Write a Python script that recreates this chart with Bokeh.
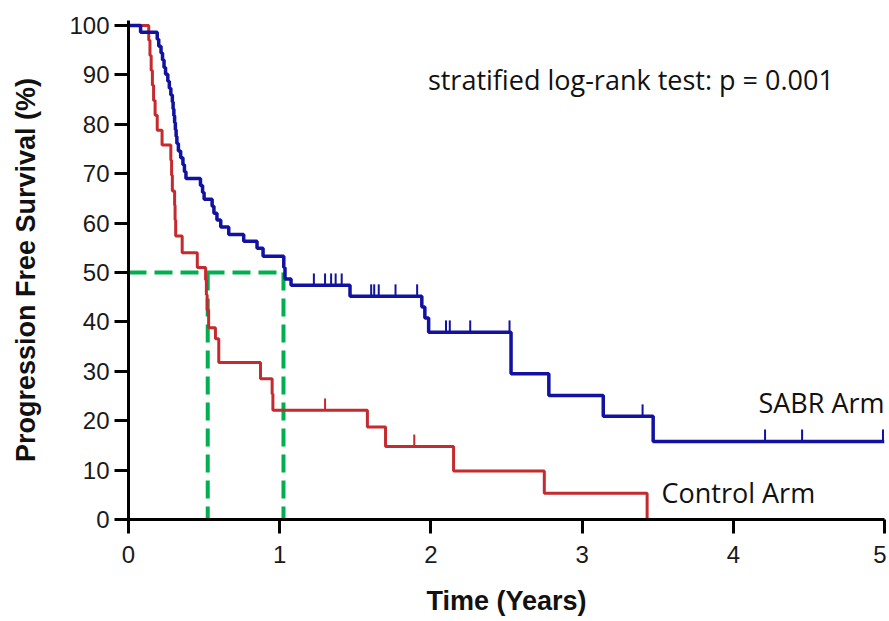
from bokeh.plotting import figure
from bokeh.models import Label, FixedTicker, Range1d
from bokeh.embed import file_html
from bokeh.resources import INLINE

# ---------------- data ----------------
# SABR arm: event times (years) and survival (%) after each step
sabr_times = [0.08, 0.19, 0.20, 0.215, 0.225, 0.235, 0.245, 0.26, 0.27, 0.28, 0.29,
              0.295, 0.30, 0.305, 0.31, 0.315, 0.32, 0.33, 0.345, 0.36, 0.37, 0.38,
              0.476, 0.49, 0.50, 0.553, 0.565, 0.585, 0.61, 0.663, 0.762, 0.85, 0.89,
              1.027, 1.035, 1.075, 1.465, 1.94, 1.96, 1.985, 2.53, 2.78, 3.14, 3.47]
sabr_surv = [98.6, 97.2, 95.8, 94.4, 93.0, 91.5, 90.1, 88.7, 87.3, 85.9, 84.5,
             83.1, 81.7, 80.3, 78.9, 77.5, 76.1, 74.6, 73.2, 71.8, 70.4, 69.0,
             67.6, 66.2, 64.8, 63.4, 62.0, 60.6, 59.2, 57.7, 56.3, 54.9, 53.3,
             51.0, 48.7, 47.4, 45.2, 43.0, 40.8, 37.9, 29.5, 25.1, 20.9, 15.8]
sabr_end = 5.0
sabr_cens_t = [1.226, 1.30, 1.34, 1.37, 1.41, 1.605, 1.625, 1.655, 1.766, 1.909,
               2.10, 2.125, 2.26, 2.52, 3.40, 4.21, 4.455, 4.99]
sabr_cens_s = [47.4, 47.4, 47.4, 47.4, 47.4, 45.2, 45.2, 45.2, 45.2, 45.2,
               37.9, 37.9, 37.9, 37.9, 20.9, 15.8, 15.8, 15.8]

# Control arm
ctrl_times = [0.134, 0.142, 0.150, 0.158, 0.166, 0.176, 0.190, 0.222, 0.28, 0.285,
              0.29, 0.305, 0.308, 0.312, 0.355, 0.455, 0.51, 0.515, 0.52, 0.53,
              0.575, 0.597, 0.873, 0.95, 0.955, 1.58, 1.70, 2.15, 2.75, 3.43]
ctrl_surv = [97.0, 93.9, 90.9, 87.9, 84.8, 81.8, 78.8, 75.8, 72.7, 69.7,
             66.5, 63.6, 60.6, 57.4, 54.0, 51.0, 48.5, 45.5, 42.4, 38.8,
             36.6, 31.8, 28.5, 25.4, 22.1, 18.7, 14.8, 9.8, 5.3, 0.0]
ctrl_cens_t = [1.30, 1.89]
ctrl_cens_s = [22.1, 14.8]

median_level = 50
median_ctrl = 0.524
median_sabr = 1.025

x_ticks = [0, 1, 2, 3, 4, 5]
y_ticks = [0, 10, 20, 30, 40, 50, 60, 70, 80, 90, 100]

BLUE = "#1212A2"
RED = "#C42A2E"
GREEN = "#00B050"
CENS_LEN = 2.4  # censor tick length in % units

p = figure(width=886, height=618, output_backend="svg", toolbar_location=None,
           x_range=Range1d(0, 5), y_range=Range1d(0, 101),
           min_border_left=128, min_border_right=2, min_border_top=20,
           min_border_bottom=99)
p.outline_line_color = None
p.xgrid.visible = False
p.ygrid.visible = False
p.background_fill_color = "white"
p.border_fill_color = "white"

# median guide lines
p.segment(x0=[0], y0=[median_level], x1=[median_sabr], y1=[median_level],
          line_color=GREEN, line_width=4, line_dash="18 8")
p.segment(x0=[median_ctrl, median_sabr], y0=[median_level, median_level],
          x1=[median_ctrl, median_sabr], y1=[0, 0],
          line_color=GREEN, line_width=4, line_dash="18 8")

# Control
cx = [0] + ctrl_times
cy = [100] + ctrl_surv
p.step(cx, cy, mode="after", line_color=RED, line_width=3)
p.segment(x0=ctrl_cens_t, y0=ctrl_cens_s, x1=ctrl_cens_t,
          y1=[s + CENS_LEN for s in ctrl_cens_s], line_color=RED, line_width=2)

# SABR
sx = [0] + sabr_times + [sabr_end]
sy = [100] + sabr_surv + [sabr_surv[-1]]
p.step(sx, sy, mode="after", line_color=BLUE, line_width=3.5)
p.segment(x0=sabr_cens_t, y0=sabr_cens_s, x1=sabr_cens_t,
          y1=[s + CENS_LEN for s in sabr_cens_s], line_color=BLUE, line_width=2)

# labels
p.add_layout(Label(x=1.98, y=89.0, text="stratified log-rank test: p = 0.001",
                   text_font="Open Sans", text_font_size="27px",
                   text_color="#111111", text_baseline="alphabetic"))
p.add_layout(Label(x=5.0, y=23.6, text="SABR Arm", text_align="right",
                   text_font="Open Sans", text_font_size="27px",
                   text_color="#111111", text_baseline="alphabetic"))
p.add_layout(Label(x=3.525, y=5.4, text="Control Arm",
                   text_font="Open Sans", text_font_size="27px",
                   text_color="#111111", text_baseline="alphabetic"))

for ax in (p.xaxis[0], p.yaxis[0]):
    ax.axis_line_width = 3
    ax.axis_line_color = "black"
    ax.major_tick_line_width = 3
    ax.major_tick_line_color = "black"
    ax.major_tick_out = 14
    ax.major_tick_in = 0
    ax.minor_tick_line_color = None
    ax.major_label_text_font = "Liberation Sans"
    ax.major_label_text_font_size = "24px"
    ax.major_label_text_color = "#1a1a1a"
    ax.axis_label_text_font = "Liberation Sans"
    ax.axis_label_text_font_style = "bold"
    ax.axis_label_text_font_size = "27px"
    ax.axis_label_text_color = "#111111"

p.xaxis.ticker = FixedTicker(ticks=x_ticks)
p.yaxis.ticker = FixedTicker(ticks=y_ticks)
p.xaxis.axis_label = "Time (Years)"
p.yaxis.axis_label = "Progression Free Survival (%)"
p.xaxis.major_label_standoff = 12
p.yaxis.major_label_standoff = 5
p.xaxis.axis_label_standoff = 20
p.yaxis.axis_label_standoff = 25

open("out.html", "w").write(file_html(p, INLINE))
